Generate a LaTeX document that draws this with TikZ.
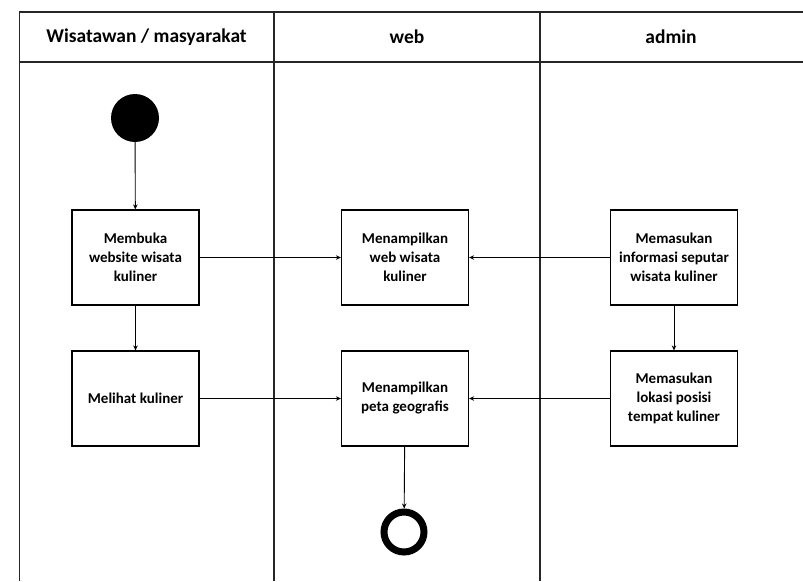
\documentclass[tikz,border=0pt]{standalone}
\usepackage{fontspec}
\setmainfont{Carlito}
\usetikzlibrary{arrows.meta}
\begin{document}
\begin{tikzpicture}[x=1pt,y=-1pt,
  lane/.style={line width=1.1pt,draw=black!85},
  act/.style={draw=black,line width=1.2pt,fill=white,minimum width=127pt,minimum height=95pt,
    align=center,font=\bfseries\fontsize{15}{19}\selectfont,inner sep=0pt},
  hdr/.style={font=\bfseries\fontsize{19.5}{23}\selectfont},
  flow/.style={line width=0.9pt,-{Stealth[length=5pt,width=4.5pt]}}]
\useasboundingbox (0,0) rectangle (803,581);
% swimlane table
\draw[lane] (803,12) -- (19.5,12) -- (19.5,581);
\draw[lane] (19.5,62) -- (803,62);
\draw[lane] (274,12) -- (274,581);
\draw[lane] (540,12) -- (540,581);
\node[hdr] (h1) at (146.5,37) {Wisatawan / masyarakat};
\node[hdr] (h2) at (407,37) {web};
\node[hdr] (h3) at (671,37) {admin};
% nodes
\node[circle,fill=black,minimum size=48pt,inner sep=0pt] (start) at (135,118) {};
\node[act] (a1) at (135.5,257.5) {Membuka\\website wisata\\kuliner};
\node[act] (a2) at (135.5,398.5) {Melihat kuliner};
\node[act] (w1) at (405,257.5) {Menampilkan\\web wisata\\kuliner};
\node[act] (w2) at (405,398.5) {Menampilkan\\peta geografis};
\node[act] (d1) at (674,257.5) {Memasukan\\informasi seputar\\wisata kuliner};
\node[act] (d2) at (674,398.5) {Memasukan\\lokasi posisi\\tempat kuliner};
\node[circle,draw=black,line width=7pt,fill=white,minimum size=40pt,inner sep=0pt] (end) at (404,532) {};
% flows
\draw[flow] (start) -- (a1);
\draw[flow] (a1) -- (a2);
\draw[flow] (a1) -- (w1);
\draw[flow] (d1) -- (w1);
\draw[flow] (a2) -- (w2);
\draw[flow] (d2) -- (w2);
\draw[flow] (d1) -- (d2);
\draw[flow] (w2) -- (end);
\end{tikzpicture}
\end{document}
